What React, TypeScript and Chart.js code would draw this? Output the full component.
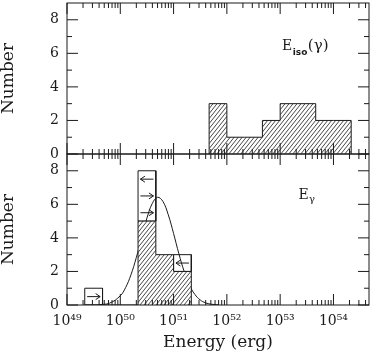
import React, { useEffect, useRef } from 'react';
import { Chart, registerables } from 'chart.js';

Chart.register(...registerables);

// ---------- data (energies as log10 of erg) ----------
// Top panel: E_iso(gamma) histogram
const eisoBinEdges = [51.667, 52.0, 52.333, 52.667, 53.0, 53.333, 53.667, 54.0, 54.333];
const eisoCounts = [3, 1, 1, 2, 3, 3, 2, 2];

// Bottom panel: E_gamma histogram (hatched = measured, open boxes = limits)
const egBinEdges = [49.333, 49.667, 50.0, 50.333, 50.667, 51.0, 51.333];
const egCounts = [0, 0, 0, 5, 3, 2];
const egLimitTotals = [1, 0, 0, 8, 3, 3];

// Limit arrows inside the open boxes
const arrowBin = [0, 3, 3, 3, 5];
const arrowN = [0.5, 7.5, 6.5, 5.5, 2.5];
const arrowDir = [1, -1, 1, 1, -1];

// Fitted log-normal curve
const curveLogE = [49.6, 49.8, 50.0, 50.1, 50.2, 50.3, 50.4, 50.5, 50.6, 50.7, 50.8, 50.9, 51.0, 51.1, 51.2, 51.3, 51.4, 51.5, 51.6, 51.7, 51.85];
const curveN = [0.02, 0.11, 0.55, 1.04, 1.8, 2.82, 4.02, 5.18, 6.05, 6.42, 6.17, 5.38, 4.26, 3.05, 1.99, 1.17, 0.63, 0.3, 0.13, 0.05, 0.01];

// Axes
const xMinLog = 49;
const xMaxLog = 54.667;
const xTickLogs = [49, 50, 51, 52, 53, 54];
const xTickLabels = ['10⁴⁹', '10⁵⁰', '10⁵¹', '10⁵²', '10⁵³', '10⁵⁴'];
const yMin = 0;
const yMax = 9;
const yTickValues = [0, 2, 4, 6, 8];
const yMinorValues = [1, 3, 5, 7];

const INK = '#1a1a1a';
const SERIF = "'DejaVu Serif', serif";

function stepPoints(edges: number[], counts: number[]) {
  const pts: { x: number; y: number }[] = [{ x: Math.pow(10, edges[0]), y: 0 }];
  counts.forEach((c, i) => pts.push({ x: Math.pow(10, edges[i]), y: c }));
  pts.push({ x: Math.pow(10, edges[edges.length - 1]), y: 0 });
  return pts;
}

function limitBoxPoints() {
  const pts: { x: number; y: number | null }[] = [];
  egLimitTotals.forEach((t, i) => {
    const h = egCounts[i];
    if (t <= h) return;
    const L = Math.pow(10, egBinEdges[i]);
    const R = Math.pow(10, egBinEdges[i + 1]);
    pts.push({ x: L, y: h }, { x: L, y: t }, { x: R, y: t }, { x: R, y: h }, { x: L, y: h }, { x: L, y: null });
  });
  return pts;
}

function makeHatch(): CanvasPattern | string {
  const w = 4, h = 5;
  const c = document.createElement('canvas');
  c.width = w; c.height = h;
  const g = c.getContext('2d');
  if (!g) return '#999';
  g.fillStyle = '#fff';
  g.fillRect(0, 0, w, h);
  g.strokeStyle = '#333';
  g.lineWidth = 0.9;
  for (const dx of [-w, 0, w]) {
    g.beginPath();
    g.moveTo(dx - w, 2 * h);
    g.lineTo(dx + 2 * w, -h);
    g.stroke();
  }
  const p = g.createPattern(c, 'repeat');
  return p || '#999';
}

const framePlugin = {
  id: 'frameTicks',
  afterDraw(chart: any) {
    const ctx: CanvasRenderingContext2D = chart.ctx;
    const xs = chart.scales.x;
    const { left, right } = chart.chartArea;
    ctx.save();
    ctx.strokeStyle = INK;
    ctx.lineWidth = 1;
    const seg = (x1: number, y1: number, x2: number, y2: number) => {
      ctx.beginPath();
      ctx.moveTo(x1, y1);
      ctx.lineTo(x2, y2);
      ctx.stroke();
    };
    const MAJ = 11, MIN = 5;
    for (const ys of [chart.scales.yTop, chart.scales.yBot]) {
      const top = ys.top, bot = ys.bottom;
      ctx.strokeRect(left, top, right - left, bot - top);
      // x ticks (log) on both edges of the panel
      for (let d = Math.floor(xMinLog); d <= Math.floor(xMaxLog); d++) {
        for (let k = 1; k <= 9; k++) {
          const lv = d + Math.log10(k);
          if (lv < xMinLog || lv > xMaxLog) continue;
          const px = xs.getPixelForValue(Math.pow(10, lv));
          const len = k === 1 ? MAJ : MIN;
          seg(px, bot, px, bot - len);
          seg(px, top, px, top + len);
        }
      }
      // y ticks on both sides
      const yt = [...yTickValues.map((v) => [v, MAJ]), ...yMinorValues.map((v) => [v, MIN])];
      for (const [v, len] of yt) {
        const py = ys.getPixelForValue(v);
        seg(left, py, left + len, py);
        seg(right, py, right - len, py);
      }
    }
    // arrows
    const yb = chart.scales.yBot;
    arrowBin.forEach((b, i) => {
      const L = xs.getPixelForValue(Math.pow(10, egBinEdges[b]));
      const R = xs.getPixelForValue(Math.pow(10, egBinEdges[b + 1]));
      const cx = (L + R) / 2;
      const py = yb.getPixelForValue(arrowN[i]);
      const half = 6.5;
      const tip = cx + arrowDir[i] * half;
      seg(cx - half, py, cx + half, py);
      ctx.beginPath();
      ctx.moveTo(tip - arrowDir[i] * 4.5, py - 3);
      ctx.lineTo(tip, py);
      ctx.lineTo(tip - arrowDir[i] * 4.5, py + 3);
      ctx.stroke();
    });
    // panel labels
    ctx.fillStyle = INK;
    ctx.textBaseline = 'alphabetic';
    ctx.textAlign = 'left';
    const yt = chart.scales.yTop;
    let x = right - 87;
    let base = yt.top + 46.5;
    ctx.font = `14px ${SERIF}`;
    ctx.fillText('E', x, base);
    x += ctx.measureText('E').width + 0.5;
    ctx.font = `bold 9px 'DejaVu Sans', sans-serif`;
    ctx.fillText('iso', x, base + 5);
    x += ctx.measureText('iso').width + 0.5;
    ctx.font = `15px ${SERIF}`;
    ctx.fillText('(γ)', x, base);

    x = right - 70.5;
    base = yb.top + 44.5;
    ctx.font = `14px ${SERIF}`;
    ctx.fillText('E', x, base);
    x += ctx.measureText('E').width + 0.3;
    ctx.font = `10px ${SERIF}`;
    ctx.fillText('γ', x, base + 3.5);
    ctx.restore();
  },
};

const yScale = (weight: number) => ({
  type: 'linear' as const,
  position: 'left' as const,
  stack: 'panels',
  stackWeight: 1,
  weight,
  min: yMin,
  max: yMax,
  afterBuildTicks: (s: any) => {
    s.ticks = yTickValues.map((v) => ({ value: v }));
  },
  afterFit: (s: any) => {
    s.width = 67;
    s.paddingTop = 0;
    s.paddingBottom = 0;
  },
  grid: { display: false, drawTicks: false },
  border: { display: false },
  ticks: { padding: 8, color: INK, font: { family: SERIF, size: 14 } },
  title: {
    display: true,
    text: 'Number',
    color: INK,
    padding: 0,
    font: { family: SERIF, size: 17, lineHeight: 1 },
  },
});

export default function App() {
  const ref = useRef<HTMLCanvasElement>(null);
  useEffect(() => {
    const canvas = ref.current;
    if (!canvas) return;
    const hatch = makeHatch();
    const chart = new Chart(canvas, {
      type: 'line',
      data: {
        datasets: [
          {
            label: 'Eiso',
            yAxisID: 'yTop',
            data: stepPoints(eisoBinEdges, eisoCounts) as any,
            stepped: true,
            fill: 'origin',
            backgroundColor: hatch as any,
            borderColor: INK,
            borderWidth: 1,
            pointRadius: 0,
          },
          {
            label: 'Egamma',
            yAxisID: 'yBot',
            data: stepPoints(egBinEdges, egCounts) as any,
            stepped: true,
            fill: 'origin',
            backgroundColor: hatch as any,
            borderColor: INK,
            borderWidth: 1,
            pointRadius: 0,
          },
          {
            label: 'limits',
            yAxisID: 'yBot',
            data: limitBoxPoints() as any,
            fill: false,
            spanGaps: false,
            borderColor: INK,
            borderWidth: 1,
            pointRadius: 0,
          },
          {
            label: 'fit',
            yAxisID: 'yBot',
            data: curveLogE.map((l, i) => ({ x: Math.pow(10, l), y: curveN[i] })) as any,
            fill: false,
            tension: 0.4,
            borderColor: INK,
            borderWidth: 1,
            pointRadius: 0,
          },
        ],
      },
      options: {
        responsive: false,
        devicePixelRatio: 1,
        animation: false,
        events: [],
        layout: { padding: { top: 3, right: 5, left: 0, bottom: 0 } },
        plugins: { legend: { display: false }, tooltip: { enabled: false } },
        scales: {
          x: {
            type: 'logarithmic',
            position: 'bottom',
            min: Math.pow(10, xMinLog),
            max: Math.pow(10, xMaxLog),
            afterBuildTicks: (s: any) => {
              s.ticks = xTickLogs.map((l) => ({ value: Math.pow(10, l) }));
            },
            afterFit: (s: any) => {
              s.height = 53;
              s.paddingLeft = 0;
              s.paddingRight = 0;
            },
            grid: { display: false, drawTicks: false },
            border: { display: false },
            ticks: {
              autoSkip: false,
              maxRotation: 0,
              padding: 8,
              color: INK,
              font: { family: SERIF, size: 14 },
              callback: (_v: any, i: number) => xTickLabels[i],
            },
            title: {
              display: true,
              text: 'Energy (erg)',
              color: INK,
              padding: { top: 0, bottom: 7 },
              font: { family: SERIF, size: 17, lineHeight: 1 },
            },
          },
          yTop: yScale(2) as any,
          yBot: yScale(1) as any,
        },
      },
      plugins: [framePlugin],
    });
    return () => chart.destroy();
  }, []);
  return (
    <div style={{ position: 'absolute', left: 0, top: 0, width: 374, height: 358, background: '#fff' }}>
      <canvas ref={ref} width={374} height={358} style={{ width: 374, height: 358, display: 'block' }} />
    </div>
  );
}
